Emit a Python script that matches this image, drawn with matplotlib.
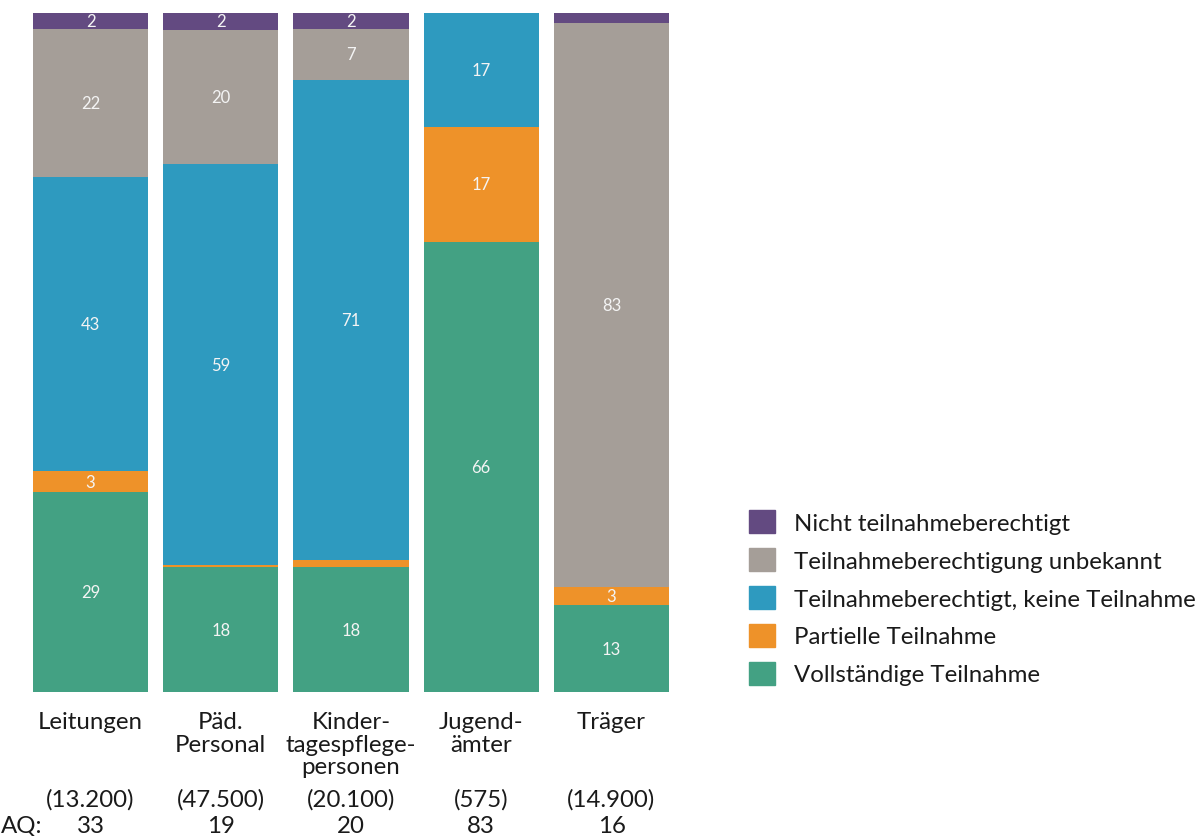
import matplotlib
matplotlib.use("Agg")
import matplotlib.pyplot as plt
from matplotlib.patches import Patch
import numpy as np

plt.rcParams['font.family'] = ['Lato', 'DejaVu Sans']

categories = ["Leitungen", "Päd.\nPersonal", "Kinder-\ntagespflege-\npersonen", "Jugend-\nämter", "Träger"]
counts = ["(13.200)", "(47.500)", "(20.100)", "(575)", "(14.900)"]
aq = ["33", "19", "20", "83", "16"]

series = ["Vollständige Teilnahme", "Partielle Teilnahme",
          "Teilnahmeberechtigt, keine Teilnahme",
          "Teilnahmeberechtigung unbekannt", "Nicht teilnahmeberechtigt"]
colors = ["#43a183", "#ee9229", "#2e9abf", "#a59e98", "#634a81"]

# percent values, bottom to top
vollstaendig = [29.4, 18.4, 18.4, 66.3, 12.8]
partiell = [3.2, 0.3, 1.0, 16.9, 2.6]
keine = [43.2, 59.0, 70.8, 16.8, 0.0]
unbekannt = [21.8, 19.8, 7.4, 0.0, 83.1]
nicht = [2.4, 2.5, 2.4, 0.0, 1.5]
values = [vollstaendig, partiell, keine, unbekannt, nicht]

fig = plt.figure(figsize=(12.02, 8.37), dpi=100)
W, H = 1202, 837
ax = fig.add_axes([25.4 / W, 1 - 693 / H, (676.6 - 25.4) / W, (693 - 14) / H])

x = np.arange(len(categories))
bottom = np.zeros(len(categories))
for vals, col in zip(values, colors):
    vals = np.array(vals)
    ax.bar(x, vals, bottom=bottom, width=0.883, color=col, linewidth=0)
    for xi, v, b in zip(x, vals, bottom):
        if v >= 2:
            ax.text(xi, b + v / 2, f"{v:.0f}", ha="center", va="center",
                    color="#f4f4f4", fontsize=12)
    bottom += vals

ax.set_xlim(-0.5, len(categories) - 0.5)
ax.set_ylim(0, 100)
ax.axis("off")

txt = "#1a1a1a"
fs = 17.3
for xi, cat, c, a in zip(x, categories, counts, aq):
    ax.annotate(cat, (xi, 0), xycoords=("data", "axes fraction"),
                xytext=(0, -14), textcoords="offset points",
                ha="center", va="top", fontsize=fs, linespacing=1.07, color=txt)
    ax.annotate(c, (xi, 0), xycoords=("data", "axes fraction"),
                xytext=(0, -77), textcoords="offset points",
                ha="center", va="center", fontsize=fs, color=txt)
    ax.annotate(a, (xi, 0), xycoords=("data", "axes fraction"),
                xytext=(0, -96), textcoords="offset points",
                ha="center", va="center", fontsize=fs, color=txt)
fig.text(1 / W, 1 - 826 / H, "AQ:", ha="left", va="center", fontsize=fs, color=txt)

handles = [Patch(color=c, label=s) for s, c in zip(series, colors)][::-1]
leg = fig.legend(handles=handles, loc="upper left",
                 bbox_to_anchor=(749 / W, 1 - 511 / H), frameon=False,
                 fontsize=fs, handlelength=1.08, handleheight=1.08,
                 handletextpad=0.8, labelspacing=0.6, borderpad=0,
                 borderaxespad=0)
for t in leg.get_texts():
    t.set_color(txt)

fig.savefig("out.png", dpi=100)
